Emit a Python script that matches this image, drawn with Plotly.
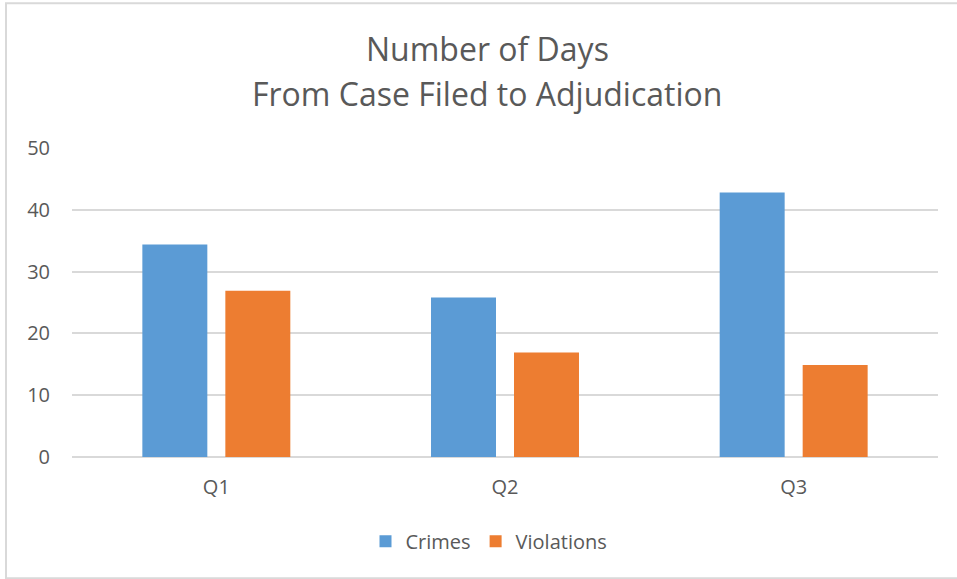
import plotly.graph_objects as go

quarters = ["Q1", "Q2", "Q3"]
crimes = [34.4, 25.8, 42.8]
violations = [26.9, 16.9, 14.9]
y_ticks = [0, 10, 20, 30, 40, 50]
title_lines = ["Number of Days", "From Case Filed to Adjudication"]

FONT = "Open Sans, Lato, sans-serif"
GRAY = "#595959"

PL, PR, PT, PB = 72, 938, 147.7, 456.7  # plot area in pixels
PW, PH = PR - PL, PB - PT

def px_x(x):
    return (x - PL) / PW

def px_y(y):
    return (PB - y) / PH

fig = go.Figure()
fig.add_trace(go.Bar(name="Crimes", x=quarters, y=crimes, marker=dict(color="#5B9BD5", line=dict(width=0))))
fig.add_trace(go.Bar(name="Violations", x=quarters, y=violations, marker=dict(color="#ED7D31", line=dict(width=0))))

fig.update_layout(
    width=957, height=579,
    margin=dict(l=PL, r=957 - PR, t=PT, b=579 - PB, autoexpand=False),
    paper_bgcolor="white", plot_bgcolor="white",
    barmode="group", bargap=0.425, bargroupgap=0.217,
    font=dict(family=FONT, color=GRAY, size=16),
    legend=dict(orientation="h", x=px_x(489), xanchor="center", y=px_y(541), yanchor="middle",
                font=dict(family=FONT, size=20, color=GRAY), itemwidth=30,
                traceorder="normal"),
    xaxis=dict(showgrid=False, showline=False, ticks="", tickfont=dict(size=20, color=GRAY),
               ticklabelstandoff=16),
    yaxis=dict(range=[0, 50], tickvals=y_ticks, showgrid=True, gridcolor="#D9D9D9", gridwidth=1.5,
               zeroline=True, zerolinecolor="#D9D9D9", zerolinewidth=1.5, showline=False,
               ticks="", tickfont=dict(size=20, color=GRAY), ticklabelstandoff=21),
    annotations=[
        dict(text=title_lines[0], xref="paper", yref="paper", x=px_x(487), y=px_y(48),
             xanchor="center", yanchor="middle", showarrow=False,
             font=dict(family=FONT, size=32, color=GRAY)),
        dict(text=title_lines[1], xref="paper", yref="paper", x=px_x(487), y=px_y(93),
             xanchor="center", yanchor="middle", showarrow=False,
             font=dict(family=FONT, size=32, color=GRAY)),
    ],
    shapes=[dict(type="rect", xref="paper", yref="paper",
                 x0=px_x(6), x1=px_x(962), y0=px_y(578), y1=px_y(3),
                 line=dict(color="#D9D9D9", width=2), fillcolor="rgba(0,0,0,0)", layer="below")],
)

fig.write_html("out.html", config={"displayModeBar": False},
               post_script="document.body.style.margin='0';document.body.style.overflow='hidden';")
